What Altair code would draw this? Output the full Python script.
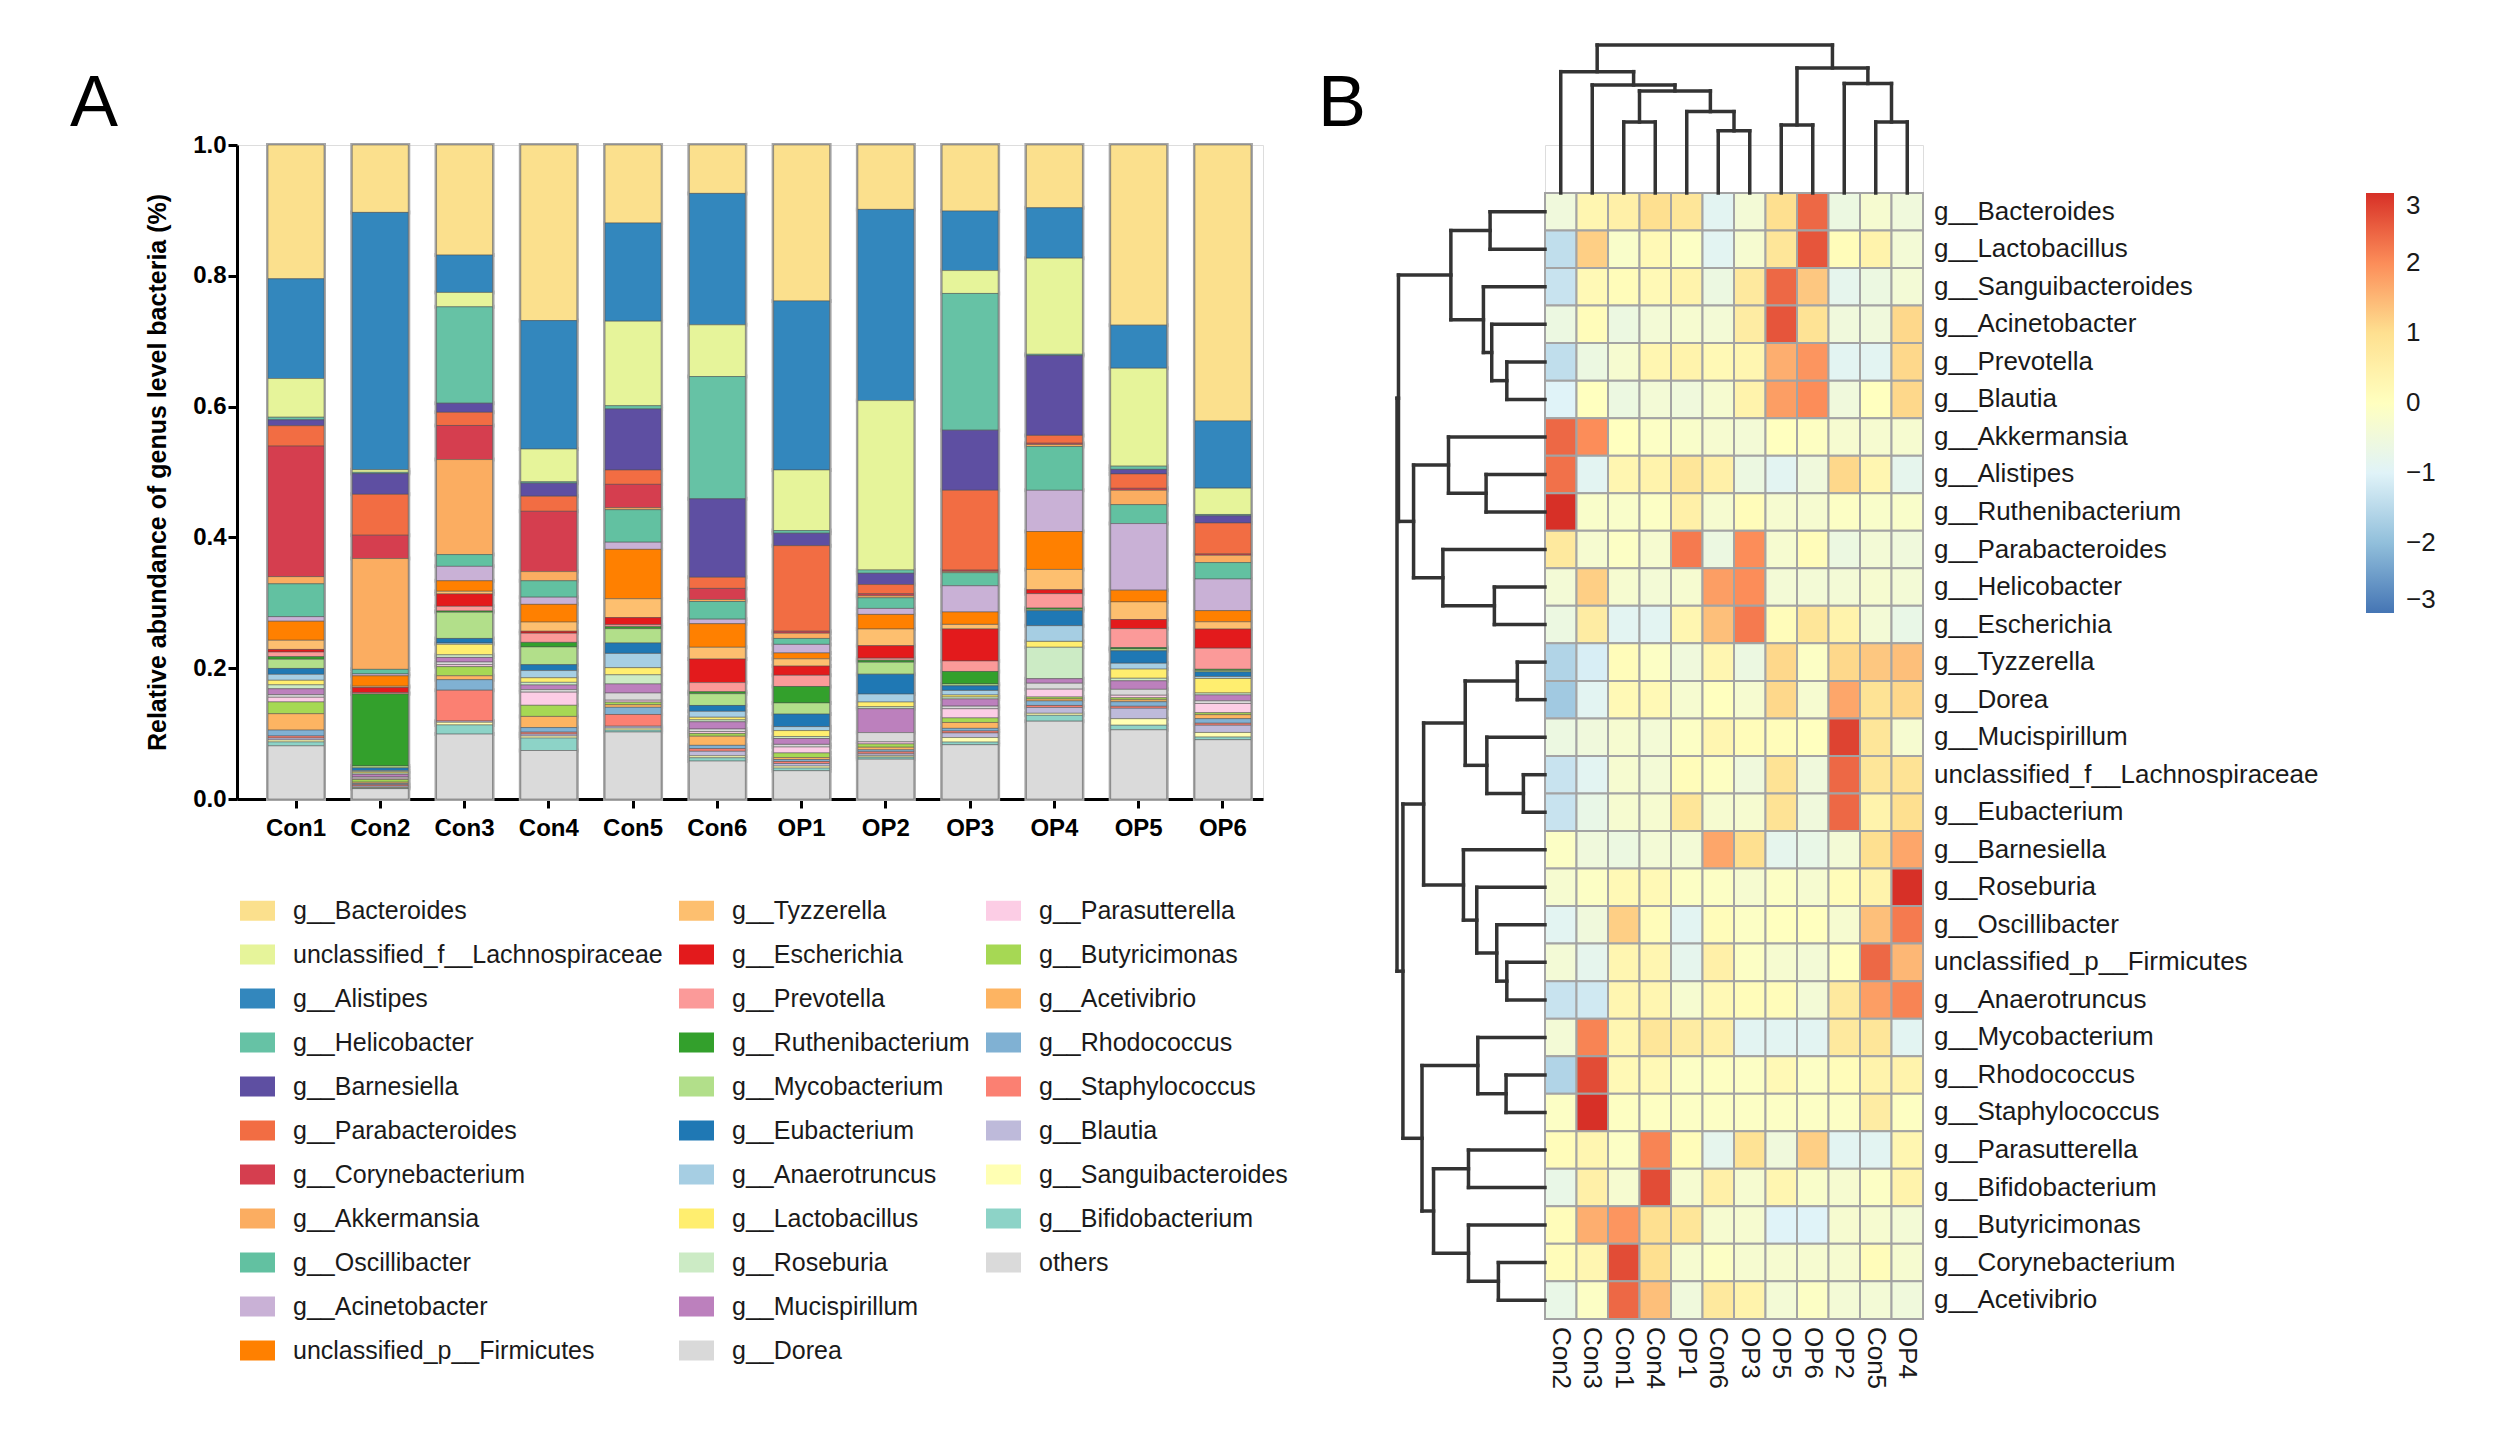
import altair as alt
import pandas as pd

FONT = "Liberation Sans"

# ================= Panel A data =================
samples = ["Con1", "Con2", "Con3", "Con4", "Con5", "Con6",
           "OP1", "OP2", "OP3", "OP4", "OP5", "OP6"]

legend_col1 = ["g__Bacteroides", "unclassified_f__Lachnospiraceae", "g__Alistipes",
               "g__Helicobacter", "g__Barnesiella", "g__Parabacteroides",
               "g__Corynebacterium", "g__Akkermansia", "g__Oscillibacter",
               "g__Acinetobacter", "unclassified_p__Firmicutes"]
legend_col2 = ["g__Tyzzerella", "g__Escherichia", "g__Prevotella", "g__Ruthenibacterium",
               "g__Mycobacterium", "g__Eubacterium", "g__Anaerotruncus", "g__Lactobacillus",
               "g__Roseburia", "g__Mucispirillum", "g__Dorea"]
legend_col3 = ["g__Parasutterella", "g__Butyricimonas", "g__Acetivibrio", "g__Rhodococcus",
               "g__Staphylococcus", "g__Blautia", "g__Sanguibacteroides",
               "g__Bifidobacterium", "others"]
legend_blanks = [" ", "  "]  # empty cells closing the third legend column

# stacking order, top of bar first
stack_top_to_bottom = ["g__Bacteroides", "g__Alistipes", "unclassified_f__Lachnospiraceae",
                       "g__Helicobacter", "g__Barnesiella", "g__Parabacteroides",
                       "g__Corynebacterium", "g__Akkermansia", "g__Oscillibacter",
                       "g__Acinetobacter", "unclassified_p__Firmicutes", "g__Tyzzerella",
                       "g__Escherichia", "g__Prevotella", "g__Ruthenibacterium",
                       "g__Mycobacterium", "g__Eubacterium", "g__Anaerotruncus",
                       "g__Lactobacillus", "g__Roseburia", "g__Mucispirillum", "g__Dorea",
                       "g__Parasutterella", "g__Butyricimonas", "g__Acetivibrio",
                       "g__Rhodococcus", "g__Staphylococcus", "g__Blautia",
                       "g__Sanguibacteroides", "g__Bifidobacterium", "others"]

# relative abundance per sample (Con1..Con6, OP1..OP6)
abundance = {
    "g__Bacteroides":                  [0.204, 0.104, 0.168, 0.268, 0.120, 0.074, 0.237, 0.097, 0.101, 0.096, 0.276, 0.419],
    "g__Alistipes":                    [0.152, 0.397, 0.057, 0.196, 0.151, 0.201, 0.257, 0.288, 0.091, 0.077, 0.066, 0.102],
    "unclassified_f__Lachnospiraceae": [0.059, 0.004, 0.022, 0.050, 0.130, 0.079, 0.092, 0.255, 0.035, 0.147, 0.150, 0.040],
    "g__Helicobacter":                 [0.004, 0.002, 0.147, 0.002, 0.005, 0.187, 0.004, 0.005, 0.209, 0.002, 0.005, 0.002],
    "g__Barnesiella":                  [0.009, 0.032, 0.014, 0.020, 0.094, 0.120, 0.019, 0.017, 0.092, 0.122, 0.007, 0.011],
    "g__Parabacteroides":              [0.031, 0.063, 0.020, 0.023, 0.022, 0.017, 0.130, 0.014, 0.122, 0.012, 0.022, 0.047],
    "g__Corynebacterium":              [0.199, 0.036, 0.052, 0.092, 0.036, 0.017, 0.003, 0.003, 0.002, 0.002, 0.003, 0.002],
    "g__Akkermansia":                  [0.011, 0.171, 0.145, 0.014, 0.003, 0.003, 0.008, 0.003, 0.002, 0.003, 0.022, 0.011],
    "g__Oscillibacter":                [0.050, 0.007, 0.018, 0.025, 0.050, 0.027, 0.009, 0.016, 0.020, 0.067, 0.029, 0.025],
    "g__Acinetobacter":                [0.007, 0.003, 0.022, 0.011, 0.011, 0.007, 0.013, 0.009, 0.040, 0.063, 0.102, 0.048],
    "unclassified_p__Firmicutes":      [0.029, 0.016, 0.016, 0.027, 0.076, 0.036, 0.009, 0.022, 0.019, 0.058, 0.018, 0.017],
    "g__Tyzzerella":                   [0.014, 0.002, 0.004, 0.014, 0.029, 0.018, 0.011, 0.025, 0.007, 0.031, 0.027, 0.011],
    "g__Escherichia":                  [0.004, 0.008, 0.019, 0.003, 0.011, 0.036, 0.014, 0.019, 0.049, 0.006, 0.014, 0.029],
    "g__Prevotella":                   [0.007, 0.002, 0.007, 0.014, 0.003, 0.014, 0.017, 0.003, 0.016, 0.022, 0.029, 0.032],
    "g__Ruthenibacterium":             [0.004, 0.111, 0.002, 0.007, 0.003, 0.003, 0.025, 0.003, 0.019, 0.002, 0.002, 0.002],
    "g__Mycobacterium":                [0.014, 0.003, 0.040, 0.027, 0.022, 0.018, 0.017, 0.018, 0.003, 0.002, 0.003, 0.002],
    "g__Eubacterium":                  [0.009, 0.004, 0.007, 0.009, 0.016, 0.009, 0.019, 0.030, 0.007, 0.023, 0.019, 0.007],
    "g__Anaerotruncus":                [0.009, 0.002, 0.002, 0.011, 0.022, 0.009, 0.006, 0.012, 0.007, 0.024, 0.009, 0.003],
    "g__Lactobacillus":                [0.007, 0.002, 0.016, 0.007, 0.011, 0.004, 0.009, 0.007, 0.003, 0.009, 0.014, 0.022],
    "g__Roseburia":                    [0.006, 0.002, 0.004, 0.004, 0.014, 0.003, 0.003, 0.003, 0.003, 0.048, 0.004, 0.003],
    "g__Mucispirillum":                [0.009, 0.004, 0.007, 0.007, 0.014, 0.011, 0.009, 0.036, 0.011, 0.007, 0.013, 0.009],
    "g__Dorea":                        [0.004, 0.002, 0.004, 0.004, 0.011, 0.004, 0.004, 0.014, 0.004, 0.009, 0.009, 0.004],
    "g__Parasutterella":               [0.007, 0.002, 0.003, 0.020, 0.003, 0.003, 0.009, 0.003, 0.014, 0.012, 0.004, 0.014],
    "g__Butyricimonas":                [0.018, 0.004, 0.014, 0.017, 0.004, 0.004, 0.007, 0.005, 0.007, 0.003, 0.003, 0.003],
    "g__Acetivibrio":                  [0.025, 0.002, 0.006, 0.017, 0.004, 0.014, 0.003, 0.004, 0.009, 0.003, 0.003, 0.006],
    "g__Rhodococcus":                  [0.009, 0.002, 0.016, 0.007, 0.011, 0.005, 0.003, 0.003, 0.004, 0.007, 0.007, 0.007],
    "g__Staphylococcus":               [0.003, 0.002, 0.047, 0.003, 0.018, 0.004, 0.003, 0.003, 0.003, 0.003, 0.003, 0.003],
    "g__Blautia":                      [0.003, 0.002, 0.002, 0.003, 0.003, 0.007, 0.004, 0.003, 0.007, 0.009, 0.016, 0.011],
    "g__Sanguibacteroides":            [0.003, 0.001, 0.004, 0.003, 0.003, 0.003, 0.003, 0.002, 0.007, 0.003, 0.010, 0.007],
    "g__Bifidobacterium":              [0.006, 0.001, 0.014, 0.019, 0.003, 0.005, 0.004, 0.003, 0.004, 0.009, 0.007, 0.004],
    "others":                          [0.081, 0.016, 0.099, 0.074, 0.103, 0.058, 0.043, 0.060, 0.083, 0.119, 0.106, 0.090],
}

genus_colors = {
    "g__Bacteroides": "#fbe08d", "unclassified_f__Lachnospiraceae": "#e6f49a",
    "g__Alistipes": "#3387bd", "g__Helicobacter": "#66c2a5", "g__Barnesiella": "#5e4fa2",
    "g__Parabacteroides": "#f26d43", "g__Corynebacterium": "#d53e4f",
    "g__Akkermansia": "#fbad61", "g__Oscillibacter": "#62c1a1", "g__Acinetobacter": "#c9b1d6",
    "unclassified_p__Firmicutes": "#ff8000", "g__Tyzzerella": "#fdbf6f",
    "g__Escherichia": "#e31a1c", "g__Prevotella": "#fb9a99", "g__Ruthenibacterium": "#33a02c",
    "g__Mycobacterium": "#b2df8a", "g__Eubacterium": "#1f78b4", "g__Anaerotruncus": "#a6cee3",
    "g__Lactobacillus": "#ffee6f", "g__Roseburia": "#ccebc5", "g__Mucispirillum": "#bc80bd",
    "g__Dorea": "#d9d9d9", "g__Parasutterella": "#fccde5", "g__Butyricimonas": "#a6d854",
    "g__Acetivibrio": "#fdb462", "g__Rhodococcus": "#80b1d3", "g__Staphylococcus": "#fb8072",
    "g__Blautia": "#bebada", "g__Sanguibacteroides": "#ffffb3",
    "g__Bifidobacterium": "#8dd3c7", "others": "#dadada",
}

# ================= Panel B data =================
heat_cols = ["Con2", "Con3", "Con1", "Con4", "OP1", "Con6", "OP3", "OP5", "OP6", "OP2", "Con5", "OP4"]
heat_rows = ["g__Bacteroides", "g__Lactobacillus", "g__Sanguibacteroides", "g__Acinetobacter",
             "g__Prevotella", "g__Blautia", "g__Akkermansia", "g__Alistipes",
             "g__Ruthenibacterium", "g__Parabacteroides", "g__Helicobacter", "g__Escherichia",
             "g__Tyzzerella", "g__Dorea", "g__Mucispirillum", "unclassified_f__Lachnospiraceae",
             "g__Eubacterium", "g__Barnesiella", "g__Roseburia", "g__Oscillibacter",
             "unclassified_p__Firmicutes", "g__Anaerotruncus", "g__Mycobacterium",
             "g__Rhodococcus", "g__Staphylococcus", "g__Parasutterella", "g__Bifidobacterium",
             "g__Butyricimonas", "g__Corynebacterium", "g__Acetivibrio"]

zscores = [
    [-0.5, 0.3, 0.5, 1.0, 0.8, -0.9, -0.4, 1.0, 2.4, -0.6, -0.3, -0.5],
    [-1.4, 1.2, -0.2, 0.2, -0.1, -0.9, -0.3, 0.8, 2.6, 0.1, 0.4, -0.4],
    [-1.3, 0.2, 0.1, 0.2, 0.4, -0.6, 0.7, 2.4, 1.3, -0.8, -0.6, -0.4],
    [-0.6, 0.1, -0.6, -0.4, -0.3, -0.4, 0.6, 2.6, 0.9, -0.5, -0.5, 1.1],
    [-1.4, -0.6, -0.3, 0.3, 0.4, 0.2, 0.3, 1.6, 1.9, -0.9, -0.9, 1.1],
    [-1.0, 0.0, -0.6, -0.4, -0.5, -0.3, 0.4, 1.8, 2.0, -0.5, 0.0, 1.1],
    [2.4, 2.0, 0.0, -0.1, -0.2, -0.3, -0.4, 0.0, -0.05, -0.3, -0.3, -0.3],
    [2.3, -0.9, 0.3, 0.4, 0.8, 0.5, -0.6, -0.9, -0.5, 1.1, 0.3, -0.8],
    [3.0, -0.2, -0.2, -0.1, 0.5, -0.3, 0.1, -0.3, -0.3, -0.1, -0.2, -0.2],
    [0.7, -0.3, -0.1, -0.3, 2.2, -0.6, 2.0, -0.3, 0.1, -0.6, -0.4, -0.5],
    [-0.4, 1.2, -0.3, -0.4, -0.3, 1.8, 2.0, -0.4, -0.4, -0.4, -0.3, -0.4],
    [-0.6, 0.6, -0.9, -0.9, 0.3, 1.4, 2.2, 0.1, 0.8, 0.4, -0.4, -0.7],
    [-1.6, -1.1, 0.1, -0.1, -0.5, 0.3, -0.6, 1.1, -0.1, 1.1, 1.3, 1.4],
    [-1.8, -0.9, 0.2, 0.2, -0.3, 0.0, -0.3, 1.1, -0.3, 1.7, 0.9, 1.1],
    [-0.6, -0.5, -0.3, -0.4, -0.1, 0.3, 0.1, 0.1, 0.0, 2.8, 0.8, -0.3],
    [-1.3, -0.9, -0.3, -0.4, 0.1, -0.05, -0.5, 0.9, -0.5, 2.4, 0.8, 0.9],
    [-1.3, -0.7, -0.3, -0.3, 0.8, -0.3, -0.3, 0.9, -0.5, 2.4, 0.4, 1.0],
    [-0.1, -0.5, -0.6, -0.4, -0.4, 1.7, 1.0, -0.8, -0.7, -0.4, 1.0, 1.7],
    [-0.3, -0.1, 0.2, 0.2, -0.1, -0.1, -0.3, -0.1, -0.3, 0.1, 0.4, 3.0],
    [-0.9, -0.5, 1.2, 0.1, -0.9, 0.1, -0.1, 0.0, 0.0, -0.3, 1.4, 2.2],
    [-0.4, -0.8, 0.3, 0.3, -0.8, 0.5, -0.1, -0.3, -0.4, 0.0, 2.4, 1.5],
    [-1.3, -1.2, 0.3, 0.3, -0.3, 0.2, 0.1, 0.1, -0.4, 0.7, 1.8, 2.1],
    [-0.4, 2.1, 0.3, 0.8, 0.6, 0.5, -0.9, -0.9, -0.9, 0.7, 0.8, -0.9],
    [-1.6, 2.7, 0.2, 0.2, -0.1, -0.05, -0.1, 0.2, -0.1, 0.1, 0.4, 0.4],
    [-0.1, 3.0, -0.05, -0.05, -0.1, -0.1, -0.1, -0.1, -0.1, -0.1, 0.6, -0.05],
    [0.1, 0.3, -0.1, 2.1, 0.1, -0.8, 0.9, -0.5, 1.2, -0.9, -0.9, 0.3],
    [-0.7, 0.5, -0.3, 2.7, -0.3, 0.5, -0.3, 0.3, -0.2, -0.3, -0.1, 0.4],
    [0.1, 1.6, 1.9, 1.0, 0.8, -0.3, -0.3, -1.0, -1.0, -0.3, -0.3, -0.4],
    [0.1, 0.3, 2.7, 1.0, -0.3, -0.1, -0.3, -0.3, -0.3, -0.3, 0.1, -0.3],
    [-0.7, -0.1, 2.4, 1.4, -0.5, 0.7, 0.4, -0.4, -0.1, -0.4, -0.4, -0.5],
]

# hierarchical clustering merges: (child a, child b, relative height); leaves 0..n-1, new nodes n, n+1, ...
top_merges = [
    (2, 3, 0.48), (5, 6, 0.42), (4, 13, 0.55), (12, 14, 0.69), (1, 15, 0.73),
    (0, 16, 0.82), (7, 8, 0.46), (10, 11, 0.48), (9, 19, 0.74), (18, 20, 0.845),
    (17, 21, 1.0),
]
left_merges = [
    (0, 1, 0.371), (4, 5, 0.258), (3, 31, 0.36), (2, 32, 0.416), (30, 33, 0.636),
    (7, 8, 0.398), (6, 35, 0.652), (10, 11, 0.342), (9, 37, 0.69), (36, 38, 0.888),
    (34, 39, 0.99), (12, 13, 0.187), (15, 16, 0.146), (14, 42, 0.393), (41, 43, 0.539),
    (20, 21, 0.258), (19, 45, 0.326), (18, 46, 0.461), (17, 47, 0.551), (44, 48, 0.82),
    (23, 24, 0.263), (22, 50, 0.454), (25, 26, 0.517), (28, 29, 0.315), (27, 53, 0.517),
    (52, 54, 0.753), (51, 55, 0.831), (49, 56, 0.96), (40, 57, 1.0),
]

panel_labels = ["A", "B"]

# ================= layout constants =================
A_W, A_H = 1026, 654
CELL_W, CELL_H = 31.5, 37.53
TOP_DENDRO_PX, LEFT_DENDRO_PX = 148, 148
HEAT_TOP_GAP = 48 / CELL_H

# ================= Panel A =================
n_stack = len(stack_top_to_bottom)
bar_records = []
for i, g in enumerate(stack_top_to_bottom):
    for s, v in zip(samples, abundance[g]):
        bar_records.append({"sample": s, "genus": g, "value": v, "rank": n_stack - i})
df_bar = pd.DataFrame(bar_records)

legend_domain = legend_col1 + legend_col2 + legend_col3 + legend_blanks
legend_range = [genus_colors.get(g, "#ffffff") for g in legend_domain]

x_scale = alt.Scale(domain=samples, paddingInner=0.3355, paddingOuter=0.2555, align=0.72)
x_axis = alt.Axis(title=None, labelAngle=0, labelFontSize=24, labelFontWeight="bold",
                  labelColor="black", labelFont=FONT, domainColor="black", domainWidth=3,
                  tickColor="black", tickWidth=3, tickSize=9, labelPadding=8)
y_scale = alt.Scale(domain=[0, 1], nice=False)
y_axis = alt.Axis(values=[0, 0.2, 0.4, 0.6, 0.8, 1.0],
                  labelExpr="format(datum.value, '.1f')", grid=False,
                  title="Relative abundance of genus level  bacteria (%)",
                  titleFontSize=25, titleFontWeight="bold", titleFont=FONT, titleColor="black",
                  titlePadding=22, labelFontSize=24, labelFontWeight="bold", labelFont=FONT,
                  labelColor="black", domainColor="black", domainWidth=3, tickColor="black",
                  tickWidth=3, tickSize=9, labelPadding=2)

# grey frame underneath the coloured segments: only its outer half stays visible
outline = alt.Chart(df_bar).mark_bar(fillOpacity=0, stroke="#a6a6a6", strokeWidth=4).encode(
    x=alt.X("sample:N", scale=x_scale, axis=x_axis),
    y=alt.Y("value:Q", stack="normalize", scale=y_scale, axis=y_axis),
    detail="genus:N",
    order=alt.Order("rank:Q", sort="ascending"),
)
bars = alt.Chart(df_bar).mark_bar(stroke="#4d4d4d", strokeWidth=0.8, strokeOpacity=0.6).encode(
    x=alt.X("sample:N", scale=x_scale, axis=x_axis),
    y=alt.Y("value:Q", stack="normalize", scale=y_scale, axis=y_axis),
    color=alt.Color("genus:N", scale=alt.Scale(domain=legend_domain, range=legend_range),
                    legend=alt.Legend(orient="none", legendX=3, legendY=748, columns=3,
                                      title=None, padding=0, symbolLimit=50,
                                      symbolType="M-1,-0.57L1,-0.57L1,0.57L-1,0.57Z",
                                      symbolSize=1225, symbolStrokeWidth=0, symbolOpacity=1,
                                      labelFontSize=25, labelFont=FONT, labelColor="#1a1a1a",
                                      labelLimit=700, labelOffset=18, rowPadding=13,
                                      columnPadding=16)),
    order=alt.Order("rank:Q", sort="ascending"),
)
label_a = alt.Chart(pd.DataFrame({"label": [panel_labels[0]]})).mark_text(
    align="left", baseline="alphabetic", fontSize=72, font=FONT, color="black"
).encode(x=alt.value(-167), y=alt.value(-19), text="label:N")

panel_a = alt.layer(outline, bars, label_a).properties(width=A_W, height=A_H)

# ================= Panel B =================
heat_records = []
for r, g in enumerate(heat_rows):
    for c, s in enumerate(heat_cols):
        heat_records.append({"row": g, "col": s, "x0": c, "x1": c + 1,
                             "y0": r, "y1": r + 1, "z": zscores[r][c]})
df_heat = pd.DataFrame(heat_records)


def dendro_segments(merges, n_leaves):
    pos = {i: i + 0.5 for i in range(n_leaves)}
    hgt = {i: 0.0 for i in range(n_leaves)}
    segs = []
    for k, (a, b, h) in enumerate(merges):
        segs.append((pos[a], hgt[a], pos[a], h))
        segs.append((pos[b], hgt[b], pos[b], h))
        segs.append((pos[a], h, pos[b], h))
        pos[n_leaves + k] = (pos[a] + pos[b]) / 2
        hgt[n_leaves + k] = h
    return segs


k_top = TOP_DENDRO_PX / CELL_H
k_left = LEFT_DENDRO_PX / CELL_W
seg_records = []
for p1, h1, p2, h2 in dendro_segments(top_merges, len(heat_cols)):
    seg_records.append({"x": p1, "x2": p2, "y": -h1 * k_top, "y2": -h2 * k_top})
for p1, h1, p2, h2 in dendro_segments(left_merges, len(heat_rows)):
    seg_records.append({"x": -h1 * k_left, "x2": -h2 * k_left, "y": p1, "y2": p2})
df_seg = pd.DataFrame(seg_records)

df_rowlab = pd.DataFrame({"label": heat_rows,
                          "tx": [len(heat_cols)] * len(heat_rows),
                          "ty": [r + 0.5 for r in range(len(heat_rows))]})
df_collab = pd.DataFrame({"label": heat_cols,
                          "tx": [c + 0.5 for c in range(len(heat_cols))],
                          "ty": [len(heat_rows)] * len(heat_cols)})

hx = alt.Scale(domain=[0, len(heat_cols)], nice=False, zero=False)
hy = alt.Scale(domain=[-HEAT_TOP_GAP, len(heat_rows)], nice=False, zero=False, reverse=True)

heat = alt.Chart(df_heat).mark_rect(stroke="#a3a3a3", strokeWidth=2).encode(
    x=alt.X("x0:Q", scale=hx, axis=None), x2="x1:Q",
    y=alt.Y("y0:Q", scale=hy, axis=None), y2="y1:Q",
    color=alt.Color("z:Q",
                    scale=alt.Scale(domain=[-3, -2, -1, 0, 1, 2, 3],
                                    range=["#4575b4", "#91bfdb", "#e0f3f8", "#ffffbf",
                                           "#fee090", "#fc8d59", "#d73027"],
                                    interpolate="rgb"),
                    legend=alt.Legend(orient="none", legendX=821, legendY=48,
                                      direction="vertical", title=None, padding=0,
                                      values=[-3, -2, -1, 0, 1, 2, 3],
                                      gradientLength=420, gradientThickness=28,
                                      gradientStrokeWidth=0, labelFontSize=26,
                                      labelFont=FONT, labelColor="#1a1a1a", labelOffset=12)),
)
dendro = alt.Chart(df_seg).mark_rule(color="#333333", strokeWidth=3.5, strokeCap="square").encode(
    x=alt.X("x:Q", scale=hx, axis=None), x2="x2:Q",
    y=alt.Y("y:Q", scale=hy, axis=None), y2="y2:Q",
)
row_labels = alt.Chart(df_rowlab).mark_text(align="left", baseline="middle", dx=11,
                                            fontSize=26, font=FONT, color="#1a1a1a").encode(
    x=alt.X("tx:Q", scale=hx, axis=None), y=alt.Y("ty:Q", scale=hy, axis=None), text="label:N",
)
col_labels = alt.Chart(df_collab).mark_text(align="left", baseline="middle", dx=8, angle=90,
                                            fontSize=26, font=FONT, color="#1a1a1a").encode(
    x=alt.X("tx:Q", scale=hx, axis=None), y=alt.Y("ty:Q", scale=hy, axis=None), text="label:N",
)
label_b = alt.Chart(pd.DataFrame({"label": [panel_labels[1]]})).mark_text(
    align="left", baseline="alphabetic", fontSize=72, font=FONT, color="black"
).encode(x=alt.value(-227), y=alt.value(-19), text="label:N")

panel_b = alt.layer(heat, dendro, row_labels, col_labels, label_b).properties(
    width=len(heat_cols) * CELL_W, height=(len(heat_rows) + HEAT_TOP_GAP) * CELL_H,
)

chart = alt.hconcat(panel_a, panel_b, spacing=282, bounds="flush").resolve_scale(
    x="independent", y="independent", color="independent"
).properties(
    padding={"left": 61, "top": 34, "right": 5, "bottom": 5}
).configure_view(strokeWidth=0).configure(font=FONT)

chart.save("out.html", embed_options={"renderer": "svg", "actions": False})
